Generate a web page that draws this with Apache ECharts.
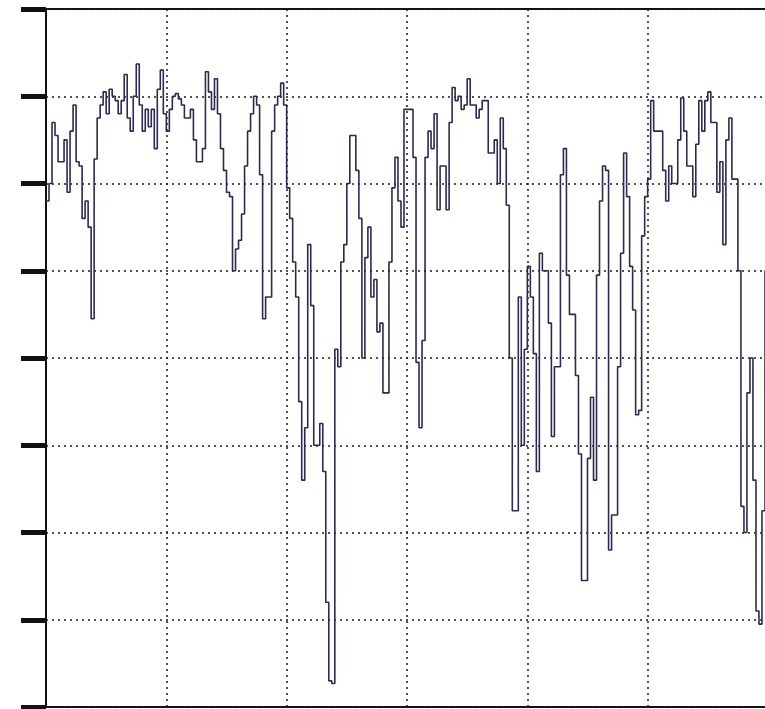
<!DOCTYPE html>
<html>
<head>
<meta charset="utf-8">
<script src="https://cdn.jsdelivr.net/npm/echarts@6/dist/echarts.min.js"></script>
<style>
html,body{margin:0;padding:0;background:#fff;overflow:hidden;width:765px;height:709px;}
#chart{width:772px;height:709px;}
</style>
</head>
<body>
<div id="chart"></div>
<script>
// Sample index (one sample per step) and signal level
const sampleCount = 240;
const xTickStep = 40;
const yTicks = [0, 1, 2, 3, 4, 5, 6, 7, 8];
const signal = [
5.8,6.0,6.7,6.55,6.25,6.25,6.5,5.9,6.6,6.9,
6.25,6.2,5.6,5.8,5.5,4.45,6.28,6.75,6.9,7.05,
6.8,7.08,7.0,6.95,6.8,6.95,7.25,6.75,6.6,7.0,
7.37,6.9,6.6,6.85,6.65,6.85,6.4,7.08,7.3,6.8,
6.6,6.85,7.0,7.03,6.97,6.9,6.75,6.75,6.85,6.5,
6.25,6.25,6.4,7.28,7.05,6.85,7.2,6.8,6.4,6.15,
5.9,5.85,5.0,5.25,5.35,5.65,6.2,6.6,6.8,7.0,
6.9,6.1,4.45,4.7,4.7,6.6,6.9,7.0,7.15,6.9,
5.95,5.6,5.1,4.7,3.5,2.6,3.2,5.3,4.6,3.0,
3.0,3.25,2.7,1.2,0.3,0.27,4.1,3.9,5.1,5.3,
6.0,6.55,6.55,6.15,5.6,4.0,5.15,5.5,4.7,4.9,
4.3,4.4,3.6,3.6,5.1,5.95,6.3,5.8,5.5,6.85,
6.85,6.85,6.3,3.95,3.2,4.2,6.3,6.6,6.4,6.8,
5.7,6.2,6.2,5.7,6.7,7.1,6.95,7.0,6.85,6.9,
7.2,6.9,6.9,6.75,6.85,6.95,6.95,6.35,6.35,6.5,
6.0,6.75,6.4,5.75,4.0,2.25,2.25,4.7,3.0,4.1,
5.05,4.7,4.05,2.7,5.2,5.0,5.0,4.4,3.1,3.9,
3.9,6.1,6.4,4.95,4.5,4.5,3.8,2.9,1.45,1.45,
2.85,3.55,2.6,4.95,5.8,6.2,6.15,1.8,2.2,2.2,
3.9,5.2,6.35,5.85,5.05,4.55,3.35,3.4,5.4,5.85,
6.05,6.95,6.6,6.6,6.6,6.15,5.8,6.2,6.0,6.0,
6.5,6.98,6.6,6.2,6.2,5.85,6.45,6.95,6.6,6.95,
7.05,6.7,6.7,5.9,6.25,5.3,6.5,6.75,6.05,6.05,
5.0,2.3,2.0,3.6,4.0,2.6,1.1,0.95,2.25,5.0
];

const points = signal.map((v, i) => [i, v]);
points.push([signal.length, signal[signal.length - 1]]);

const chart = echarts.init(document.getElementById('chart'), null, {renderer: 'canvas'});
const gridLine = {show: true, lineStyle: {color: '#1a1a1a', width: 1.5, type: [2, 4]}};
chart.setOption({
  animation: false,
  backgroundColor: '#ffffff',
  grid: {left: 46, right: 4, top: 9, bottom: 2, show: true, borderColor: '#111', borderWidth: 2, backgroundColor: 'transparent'},
  xAxis: {
    type: 'value', min: 0, max: sampleCount, interval: xTickStep,
    axisLine: {show: false}, axisTick: {show: false}, axisLabel: {show: false},
    splitLine: gridLine
  },
  yAxis: {
    type: 'value', min: yTicks[0], max: yTicks[yTicks.length - 1], interval: 1,
    axisLine: {show: true, lineStyle: {color: '#111', width: 2}},
    axisTick: {show: true, length: 25, lineStyle: {color: '#111', width: 5}},
    axisLabel: {show: false},
    splitLine: gridLine
  },
  series: [{
    type: 'line',
    step: 'end',
    data: points,
    showSymbol: false,
    lineStyle: {color: '#2a2a52', width: 1.6}
  }]
});
</script>
</body>
</html>
